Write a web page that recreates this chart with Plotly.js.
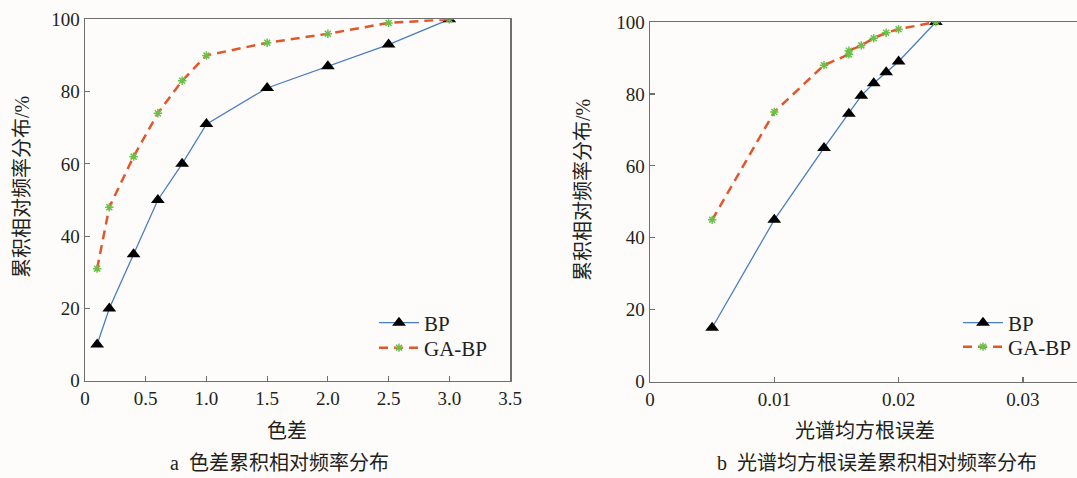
<!DOCTYPE html>
<html>
<head>
<meta charset="utf-8">
<script src="https://cdn.plot.ly/plotly-3.0.1.min.js"></script>
<style>html,body{margin:0;padding:0;background:#fdfcfb;}#chart{width:1077px;height:478px;}</style>
</head>
<body>
<div id="chart"></div>
<script>
// Chart a: colour difference
const aX = [0.1, 0.2, 0.4, 0.6, 0.8, 1.0, 1.5, 2.0, 2.5, 3.0];
const aBP = [10, 20, 35, 50, 60, 71, 81, 87, 93, 100];
const aGABP = [31, 48, 62, 74, 83, 90, 93.5, 96, 99, 100];
// Chart b: spectral RMSE
const bXBP = [0.005, 0.010, 0.014, 0.016, 0.017, 0.018, 0.019, 0.020, 0.023];
const bBP = [15, 45, 65, 74.5, 79.5, 83, 86, 89, 100];
const bXGABP = [0.005, 0.010, 0.014, 0.016, 0.016, 0.017, 0.018, 0.019, 0.020, 0.023];
const bGABP = [45, 75, 88, 91, 92, 93.5, 95.5, 97, 98, 100];
const aTicksX = [0, 0.5, 1.0, 1.5, 2.0, 2.5, 3.0, 3.5];
const aTickTextX = ['0', '0.5', '1.0', '1.5', '2.0', '2.5', '3.0', '3.5'];
const bTicksX = [0, 0.01, 0.02, 0.03];
const bTickTextX = ['0', '0.01', '0.02', '0.03'];
const yTicks = [0, 20, 40, 60, 80, 100];

const FONT = "Liberation Serif, Noto Sans CJK SC, serif";
const TXT = '#231f20';
const AXC = '#6f6f6f';
const BLUE = '#4a7ec4';
const ORANGE = '#e0572b';
const GREEN = '#6cc04a';

const bpStyle = {mode: 'lines+markers', line: {color: BLUE, width: 1.3},
  marker: {symbol: 'triangle-up', color: '#000', size: 12}};
const gaStyle = {mode: 'lines+markers', line: {color: ORANGE, width: 2.5, dash: '9px,6px'},
  marker: {symbol: 'asterisk-open', color: GREEN, size: 7, line: {color: GREEN, width: 1.5}}};

const traces = [
  Object.assign({x: aX, y: aBP, name: 'BP', xaxis: 'x', yaxis: 'y', legend: 'legend'}, bpStyle),
  Object.assign({x: aX, y: aGABP, name: 'GA-BP', xaxis: 'x', yaxis: 'y', legend: 'legend2'}, gaStyle),
  Object.assign({x: bXBP, y: bBP, name: 'BP', xaxis: 'x2', yaxis: 'y2', legend: 'legend3'}, bpStyle),
  Object.assign({x: bXGABP, y: bGABP, name: 'GA-BP', xaxis: 'x2', yaxis: 'y2', legend: 'legend4'}, gaStyle)
];

const axBase = {showgrid: false, zeroline: false, showline: true, linecolor: AXC, linewidth: 1.5,
  ticks: 'inside', ticklen: 5, tickwidth: 1.2, tickcolor: AXC,
  tickfont: {family: FONT, size: 19, color: TXT}, fixedrange: true};

const W = 1077, H = 478;
function leg(xpx, ypx) {
  return {x: xpx / W, y: 1 - ypx / H, xanchor: 'left', yanchor: 'middle', bgcolor: 'rgba(0,0,0,0)',
    font: {family: FONT, size: 21, color: TXT}, itemwidth: 40, borderwidth: 0};
}
function ann(text, xpx, ypx, angle) {
  return {text: text, x: xpx / W, y: 1 - ypx / H, xref: 'paper', yref: 'paper', showarrow: false,
    xanchor: 'center', yanchor: 'middle', textangle: angle || 0,
    font: {family: FONT, size: 20, color: TXT}};
}
const layout = {
  width: W, height: H,
  margin: {l: 0, r: 0, t: 0, b: 0},
  paper_bgcolor: '#fdfcfb', plot_bgcolor: '#fdfcfb',
  showlegend: true,
  xaxis: Object.assign({}, axBase, {domain: [85 / W, 510 / W], range: [0, 3.5],
    tickvals: aTicksX, ticktext: aTickTextX, mirror: true, anchor: 'y'}),
  yaxis: Object.assign({}, axBase, {domain: [1 - 380.7 / H, 1 - 19.3 / H], range: [0, 100],
    tickvals: yTicks, mirror: true, anchor: 'x'}),
  xaxis2: Object.assign({}, axBase, {domain: [650 / W, 1], range: [0, (W - 650) / 12430],
    tickvals: bTicksX, ticktext: bTickTextX, mirror: true, anchor: 'y2'}),
  yaxis2: Object.assign({}, axBase, {domain: [1 - 381.7 / H, 1 - 22 / H], range: [0, 100],
    tickvals: yTicks, mirror: false, anchor: 'x2'}),
  legend: leg(374, 323),
  legend2: leg(374, 348),
  legend3: leg(958, 323),
  legend4: leg(958, 347),
  annotations: [
    ann('色差', 287, 431),
    ann('a  色差累积相对频率分布', 279, 463),
    ann('光谱均方根误差', 865, 431),
    ann('b  光谱均方根误差累积相对频率分布', 877, 463),
    ann('累积相对频率分布/%', 22, 187, -90),
    ann('累积相对频率分布/%', 583, 190, -90)
  ]
};

Plotly.newPlot('chart', traces, layout, {displayModeBar: false, staticPlot: true});
</script>
</body>
</html>
